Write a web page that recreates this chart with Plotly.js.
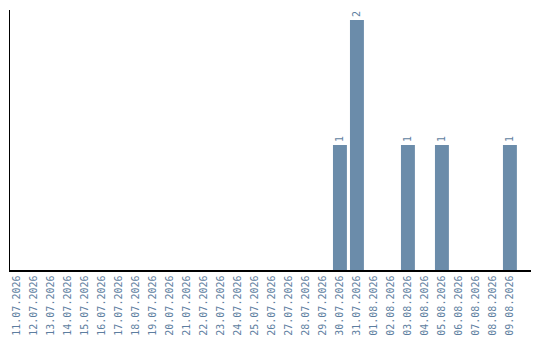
<!DOCTYPE html>
<html>
<head>
<meta charset="utf-8">
<script src="https://cdn.plot.ly/plotly-3.0.1.min.js"></script>
<style>
  html, body { margin: 0; padding: 0; background: #fff; }
  #chart { width: 540px; height: 340px; }
</style>
</head>
<body>
<div id="chart"></div>
<script>
// Daily counts, 11.07.2026 – 09.08.2026
const days = [
  '11.07.2026', '12.07.2026', '13.07.2026', '14.07.2026', '15.07.2026',
  '16.07.2026', '17.07.2026', '18.07.2026', '19.07.2026', '20.07.2026',
  '21.07.2026', '22.07.2026', '23.07.2026', '24.07.2026', '25.07.2026',
  '26.07.2026', '27.07.2026', '28.07.2026', '29.07.2026', '30.07.2026',
  '31.07.2026', '01.08.2026', '02.08.2026', '03.08.2026', '04.08.2026',
  '05.08.2026', '06.08.2026', '07.08.2026', '08.08.2026', '09.08.2026'
];
const counts = [
  0, 0, 0, 0, 0,
  0, 0, 0, 0, 0,
  0, 0, 0, 0, 0,
  0, 0, 0, 0, 1,
  2, 0, 0, 1, 0,
  1, 0, 0, 0, 1
];

const barColor = '#6b8caa';
const textColor = '#5d7ea0';
const mono = 'DejaVu Sans Mono, monospace';

// Only non-empty days get a value label
const labels = counts.map(v => (v > 0 ? String(v) : ''));

const trace = {
  type: 'bar',
  x: days,
  y: counts,
  text: labels,
  textposition: 'outside',
  textangle: -90,
  cliponaxis: false,
  textfont: { family: mono, size: 10, color: textColor },
  marker: { color: barColor },
  hoverinfo: 'x+y'
};

const layout = {
  width: 540,
  height: 340,
  margin: { l: 10, r: 9, t: 10, b: 70, pad: 0 },
  paper_bgcolor: '#ffffff',
  plot_bgcolor: '#ffffff',
  showlegend: false,
  bargap: 0.18,
  xaxis: {
    type: 'category',
    range: [-0.41, 30.24],
    showline: true,
    linecolor: '#000000',
    linewidth: 1.5,
    showgrid: false,
    zeroline: false,
    ticks: '',
    tickangle: -90,
    tickfont: { family: mono, size: 10, color: textColor },
    fixedrange: true
  },
  yaxis: {
    range: [0, 2.08],
    showline: true,
    linecolor: '#000000',
    linewidth: 1.5,
    showgrid: false,
    zeroline: false,
    showticklabels: false,
    ticks: '',
    fixedrange: true
  }
};

Plotly.newPlot('chart', [trace], layout, { displayModeBar: false, staticPlot: true });
</script>
</body>
</html>
